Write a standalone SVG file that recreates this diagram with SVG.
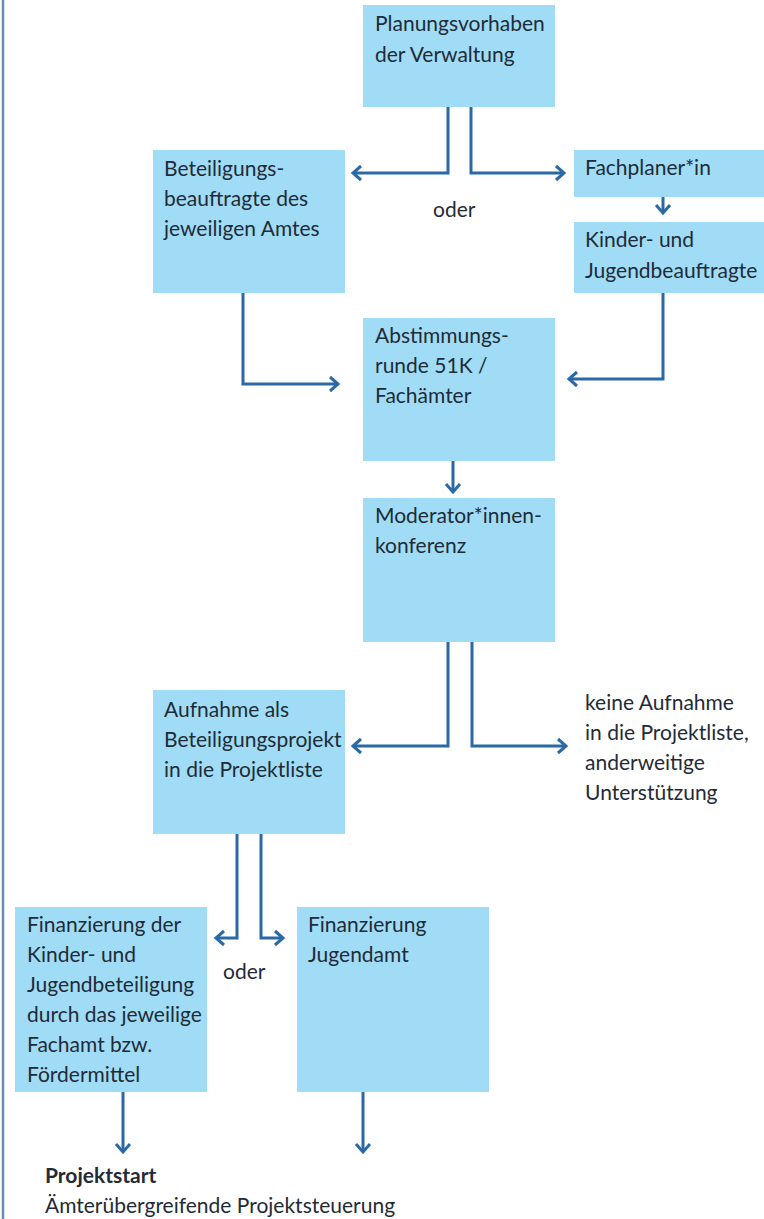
<svg xmlns="http://www.w3.org/2000/svg" width="764" height="1219" viewBox="0 0 764 1219">
<style>
.box{fill:#a0dcf6;}
.t{font-family:Lato,"Liberation Sans",sans-serif;font-size:21px;fill:#1f2b37;}
.b{font-weight:bold;}
.c{fill:none;stroke:#2b69a5;stroke-width:3;stroke-linejoin:miter;}
</style>
<defs>
<marker id="ah" markerUnits="userSpaceOnUse" markerWidth="20" markerHeight="20" viewBox="-10 -10 20 20" refX="0" refY="0" orient="auto">
<path d="M-8,-7 L0,0 L-8,7" fill="none" stroke="#2b69a5" stroke-width="3"/>
</marker>
</defs>
<rect width="764" height="1219" fill="#ffffff"/>
<line x1="3" y1="0" x2="3" y2="1219" stroke="#6c8cad" stroke-width="2.5"/>

<g id="n1"><rect class="box" x="363" y="5" width="192" height="102"/>
<text class="t" x="375" y="31">Planungsvorhaben</text><text class="t" x="375" y="62">der Verwaltung</text></g>

<g id="n2"><rect class="box" x="153" y="150" width="192" height="143"/>
<text class="t" x="164" y="176">Beteiligungs-</text><text class="t" x="164" y="206">beauftragte des</text><text class="t" x="164" y="236">jeweiligen Amtes</text></g>

<g id="n3"><rect class="box" x="574" y="150" width="190" height="47"/>
<text class="t" x="585" y="175">Fachplaner*in</text></g>

<g id="n4"><rect class="box" x="574" y="222" width="190" height="71"/>
<text class="t" x="585" y="247">Kinder- und</text><text class="t" x="585" y="278">Jugendbeauftragte</text></g>

<g id="n5"><rect class="box" x="363" y="318" width="192" height="143"/>
<text class="t" x="375" y="343">Abstimmungs-</text><text class="t" x="375" y="373">runde 51K /</text><text class="t" x="375" y="403">Fachämter</text></g>

<g id="n6"><rect class="box" x="363" y="498" width="192" height="144"/>
<text class="t" x="375" y="523">Moderator*innen-</text><text class="t" x="375" y="553">konferenz</text></g>

<g id="n7"><rect class="box" x="153" y="690" width="192" height="144"/>
<text class="t" x="164" y="717">Aufnahme als</text><text class="t" x="164" y="747">Beteiligungsprojekt</text><text class="t" x="164" y="777">in die Projektliste</text></g>

<g id="n8"><text class="t" x="585" y="710">keine Aufnahme</text><text class="t" x="585" y="740">in die Projektliste,</text><text class="t" x="585" y="770">anderweitige</text><text class="t" x="585" y="800">Unterstützung</text></g>

<g id="n9"><rect class="box" x="15" y="907" width="192" height="185"/>
<text class="t" x="27" y="932">Finanzierung der</text><text class="t" x="27" y="962">Kinder- und</text><text class="t" x="27" y="992">Jugendbeteiligung</text><text class="t" x="27" y="1022">durch das jeweilige</text><text class="t" x="27" y="1052">Fachamt bzw.</text><text class="t" x="27" y="1082">Fördermittel</text></g>

<g id="n10"><rect class="box" x="297" y="907" width="192" height="185"/>
<text class="t" x="308" y="932">Finanzierung</text><text class="t" x="308" y="962">Jugendamt</text></g>

<g id="n11"><text class="t b" x="45" y="1183">Projektstart</text><text class="t" x="45" y="1213">Ämterübergreifende Projektsteuerung</text></g>

<g id="labels"><text class="t" x="433" y="217">oder</text><text class="t" x="223" y="979">oder</text></g>

<g id="connectors">
<path class="c" d="M448,107 V173 H353" marker-end="url(#ah)"/>
<path class="c" d="M471,107 V173 H564" marker-end="url(#ah)"/>
<path class="c" d="M663,197 V213" marker-end="url(#ah)"/>
<path class="c" d="M243,293 V384 H338" marker-end="url(#ah)"/>
<path class="c" d="M663,293 V379 H569" marker-end="url(#ah)"/>
<path class="c" d="M453,461 V492" marker-end="url(#ah)"/>
<path class="c" d="M448,642 V746 H353" marker-end="url(#ah)"/>
<path class="c" d="M472,642 V746 H566" marker-end="url(#ah)"/>
<path class="c" d="M237,834 V938 H216" marker-end="url(#ah)"/>
<path class="c" d="M261,834 V938 H283" marker-end="url(#ah)"/>
<path class="c" d="M123,1092 V1152" marker-end="url(#ah)"/>
<path class="c" d="M363,1092 V1152" marker-end="url(#ah)"/>
</g>
</svg>
